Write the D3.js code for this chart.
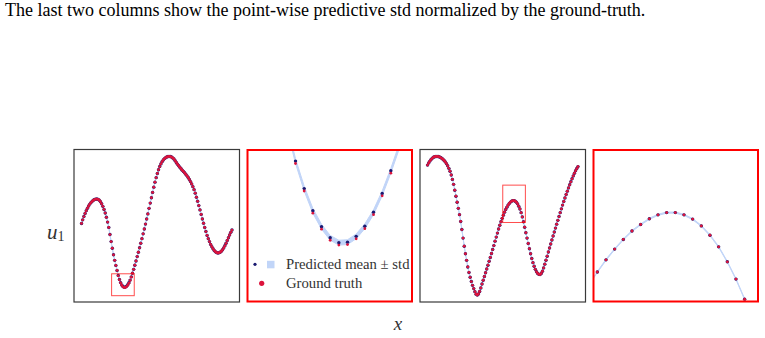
<!DOCTYPE html>
<html>
<head>
<meta charset="utf-8">
<script src="https://d3js.org/d3.v7.min.js"></script>
<style>
  body { margin: 0; background: #fff; }
  text { font-family: "Liberation Serif", "Times New Roman", serif; }
</style>
</head>
<body>
<svg width="765" height="338"></svg>
<script>
// sample 1 (columns 1-2): predicted mean and ground truth, 128 points
const u1Mean = [0.033,0.085,0.133,0.178,0.218,0.253,0.285,0.312,0.334,0.353,0.368,0.378,0.384,0.385,0.381,0.368,
  0.346,0.317,0.280,0.235,0.183,0.122,0.053,-0.024,-0.127,-0.229,-0.324,-0.419,-0.499,-0.572,-0.645,-0.717,
  -0.774,-0.820,-0.853,-0.876,-0.886,-0.885,-0.873,-0.852,-0.823,-0.784,-0.737,-0.685,-0.629,-0.569,-0.508,-0.445,
  -0.382,-0.318,-0.253,-0.186,-0.117,-0.047,0.024,0.097,0.171,0.251,0.327,0.404,0.481,0.557,0.629,0.694,
  0.754,0.808,0.854,0.892,0.924,0.949,0.969,0.982,0.992,0.998,1.000,0.998,0.991,0.979,0.964,0.939,
  0.913,0.888,0.865,0.843,0.822,0.802,0.783,0.764,0.742,0.720,0.696,0.669,0.637,0.604,0.564,0.521,
  0.470,0.412,0.353,0.291,0.229,0.164,0.098,0.036,-0.025,-0.084,-0.139,-0.186,-0.229,-0.269,-0.302,-0.331,
  -0.356,-0.375,-0.387,-0.393,-0.391,-0.382,-0.368,-0.347,-0.321,-0.289,-0.253,-0.213,-0.173,-0.133,-0.095,-0.062];
const u1True = [0.033,0.085,0.133,0.178,0.218,0.253,0.285,0.312,0.334,0.353,0.368,0.378,0.384,0.385,0.381,0.368,
  0.346,0.317,0.280,0.235,0.183,0.122,0.053,-0.024,-0.127,-0.229,-0.324,-0.419,-0.499,-0.572,-0.645,-0.722,
  -0.779,-0.825,-0.858,-0.881,-0.891,-0.890,-0.878,-0.857,-0.828,-0.789,-0.742,-0.685,-0.629,-0.569,-0.508,-0.445,
  -0.382,-0.318,-0.253,-0.186,-0.117,-0.047,0.024,0.097,0.171,0.251,0.327,0.404,0.481,0.557,0.629,0.694,
  0.754,0.808,0.854,0.892,0.924,0.949,0.969,0.982,0.992,0.998,1.000,0.998,0.991,0.979,0.964,0.939,
  0.913,0.888,0.865,0.843,0.822,0.802,0.783,0.764,0.742,0.720,0.696,0.669,0.637,0.604,0.564,0.521,
  0.470,0.412,0.353,0.291,0.229,0.164,0.098,0.036,-0.025,-0.084,-0.139,-0.186,-0.229,-0.269,-0.302,-0.331,
  -0.356,-0.375,-0.387,-0.393,-0.391,-0.382,-0.368,-0.347,-0.321,-0.289,-0.253,-0.213,-0.173,-0.133,-0.095,-0.062];

// sample 2 (columns 3-4)
const u3Mean = [0.875,0.907,0.933,0.955,0.973,0.988,0.996,1.000,1.000,0.998,0.993,0.984,0.973,0.959,0.941,0.921,
  0.896,0.865,0.828,0.787,0.732,0.669,0.597,0.513,0.426,0.339,0.251,0.160,0.062,-0.055,-0.178,-0.295,
  -0.404,-0.499,-0.594,-0.674,-0.744,-0.805,-0.860,-0.907,-0.951,-0.987,-1.000,-0.984,-0.948,-0.897,-0.841,-0.786,
  -0.732,-0.678,-0.624,-0.569,-0.513,-0.457,-0.400,-0.343,-0.286,-0.222,-0.164,-0.106,-0.047,0.007,0.058,0.107,
  0.153,0.196,0.234,0.268,0.298,0.321,0.341,0.355,0.363,0.363,0.355,0.340,0.316,0.283,0.242,0.189,
  0.128,0.057,-0.021,-0.100,-0.178,-0.256,-0.331,-0.404,-0.473,-0.532,-0.585,-0.629,-0.664,-0.688,-0.701,-0.703,
  -0.688,-0.656,-0.608,-0.554,-0.497,-0.439,-0.379,-0.321,-0.263,-0.205,-0.148,-0.091,-0.034,0.023,0.078,0.133,
  0.189,0.244,0.298,0.350,0.401,0.451,0.499,0.546,0.591,0.634,0.677,0.719,0.758,0.795,0.825,0.853];
const u3True = [0.875,0.907,0.933,0.955,0.973,0.988,0.996,1.000,1.000,0.998,0.993,0.984,0.973,0.959,0.941,0.921,
  0.896,0.865,0.828,0.787,0.732,0.669,0.597,0.513,0.426,0.339,0.251,0.160,0.062,-0.055,-0.178,-0.295,
  -0.404,-0.499,-0.594,-0.674,-0.744,-0.805,-0.860,-0.907,-0.951,-0.987,-1.000,-0.984,-0.948,-0.897,-0.841,-0.786,
  -0.732,-0.678,-0.624,-0.569,-0.513,-0.457,-0.400,-0.343,-0.286,-0.222,-0.164,-0.106,-0.047,0.007,0.058,0.107,
  0.153,0.196,0.234,0.268,0.298,0.321,0.341,0.355,0.363,0.363,0.355,0.340,0.316,0.283,0.242,0.189,
  0.128,0.057,-0.021,-0.100,-0.178,-0.256,-0.331,-0.404,-0.473,-0.532,-0.585,-0.629,-0.664,-0.688,-0.701,-0.703,
  -0.688,-0.656,-0.608,-0.554,-0.497,-0.439,-0.379,-0.321,-0.263,-0.205,-0.148,-0.091,-0.034,0.023,0.078,0.133,
  0.189,0.244,0.298,0.350,0.401,0.451,0.499,0.546,0.591,0.634,0.677,0.719,0.758,0.795,0.825,0.853];

const bandStd = [0.005, 0.002];           // predictive std, per sample
const zoomX = [[25.4, 44.5], [63.5, 82.6]];  // zoom windows (index range)
const zoomY = [[-1.009, -0.693], [0.047, 0.586]];
const legendLabels = ["Predicted mean \u00b1 std", "Ground truth"];
const title = "The last two columns show the point-wise predictive std normalized by the ground-truth.";

const svg = d3.select("svg");
const W = 165.5, H = 152.5, panelTop = 149.5;
const lefts = [74, 247, 420, 593];
const bandCol = "#6495ed", meanCol = "#191970", trueCol = "#dc143c";

svg.append("text").attr("x", 5).attr("y", 16).style("font-size", "18px").attr("fill", "#000").text(title);

function pad(ext) { var d = (ext[1] - ext[0]) * 0.05; return [ext[0] - d, ext[1] + d]; }

var xMain = d3.scaleLinear().domain(pad([0, u1Mean.length - 1])).range([0, W]);
var yMain = d3.scaleLinear().domain(pad(d3.extent(u1Mean.concat(u1True, u3Mean, u3True)))).range([H, 0]);

function drawPanel(col, mean, truth, std, x, y, id) {
  var g = svg.append("g").attr("transform", "translate(" + lefts[col] + "," + panelTop + ")");
  g.append("clipPath").attr("id", id).append("rect").attr("width", W).attr("height", H);
  var inner = g.append("g").attr("clip-path", "url(#" + id + ")");
  var area = d3.area().x(function(d, i) { return x(i); })
    .y0(function(d) { return y(d - std); }).y1(function(d) { return y(d + std); });
  inner.append("g").attr("opacity", 0.4).append("path").datum(mean).attr("d", area)
    .attr("fill", bandCol).attr("stroke", bandCol).attr("stroke-width", 1);
  inner.selectAll(".m").data(mean).enter().append("circle")
    .attr("cx", function(d, i) { return x(i); }).attr("cy", function(d) { return y(d); })
    .attr("r", 1.7).attr("fill", meanCol);
  inner.selectAll(".t").data(truth).enter().append("circle")
    .attr("cx", function(d, i) { return x(i); }).attr("cy", function(d) { return y(d); })
    .attr("r", 1.4).attr("fill", trueCol);
  return g;
}

var samples = [[u1Mean, u1True], [u3Mean, u3True]];
samples.forEach(function(s, k) {
  var g = drawPanel(2 * k, s[0], s[1], bandStd[k], xMain, yMain, "c" + (2 * k));
  g.append("rect").attr("x", xMain(zoomX[k][0])).attr("y", yMain(zoomY[k][1]))
    .attr("width", xMain(zoomX[k][1]) - xMain(zoomX[k][0]))
    .attr("height", yMain(zoomY[k][0]) - yMain(zoomY[k][1]))
    .attr("fill", "none").attr("stroke", "#ff0000").attr("stroke-opacity", 0.7).attr("stroke-width", 1);
  g.append("rect").attr("width", W).attr("height", H).attr("fill", "none")
    .attr("stroke", "#3a3a3a").attr("stroke-width", 1.2);

  var xz = d3.scaleLinear().domain(zoomX[k]).range([0, W]);
  var yz = d3.scaleLinear().domain(zoomY[k]).range([H, 0]);
  var gz = drawPanel(2 * k + 1, s[0], s[1], bandStd[k], xz, yz, "c" + (2 * k + 1));
  gz.append("rect").attr("x", 0.5).attr("y", 0.5).attr("width", W - 1).attr("height", H - 1)
    .attr("fill", "none").attr("stroke", "#ff0000").attr("stroke-width", 2);
});

// legend inside the first zoom panel
var lg = svg.append("g").attr("transform", "translate(247,0)");
lg.append("circle").attr("cx", 8).attr("cy", 264.3).attr("r", 1.6).attr("fill", meanCol);
lg.append("rect").attr("x", 20).attr("y", 260.8).attr("width", 7.5).attr("height", 7.5)
  .attr("fill", bandCol).attr("opacity", 0.4);
lg.append("circle").attr("cx", 14.7).attr("cy", 283.3).attr("r", 2.6).attr("fill", trueCol);
lg.selectAll(".lab").data(legendLabels).enter().append("text")
  .attr("x", 39).attr("y", function(d, i) { return 264.3 + i * 19; })
  .attr("dy", "0.35em").style("font-size", "14.7px").attr("fill", "#333").text(function(d) { return d; });

// axis labels
var yl = svg.append("text").attr("x", 47).attr("y", 239).attr("fill", "#333").style("font-size", "21px");
yl.append("tspan").style("font-style", "italic").text("u");
yl.append("tspan").attr("dy", 2).style("font-size", "14px").text("1");
svg.append("text").attr("x", 398).attr("y", 330).attr("text-anchor", "middle")
  .style("font-size", "19px").style("font-style", "italic").attr("fill", "#333").text("x");
</script>
</body>
</html>
